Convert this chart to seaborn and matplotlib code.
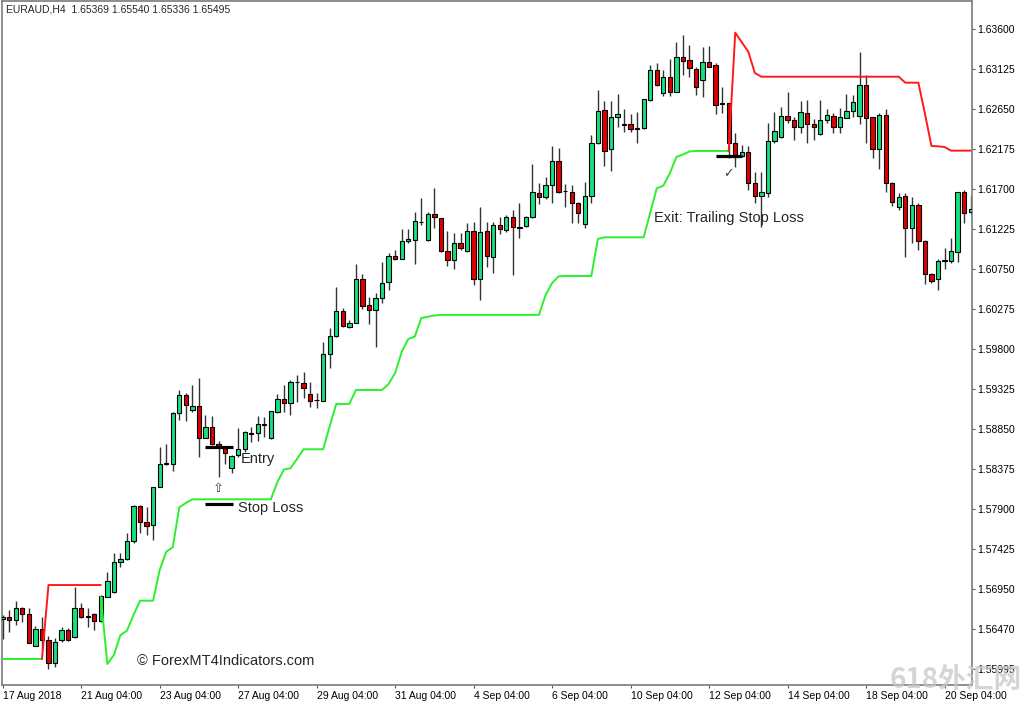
import numpy as np
import pandas as pd
import seaborn as sns
import matplotlib.pyplot as plt

# EURAUD H4 candles (bar 0 = 17 Aug 2018)
opens = [1.56590, 1.56610, 1.56578, 1.56721, 1.56650, 1.56270, 1.56472, 1.56341, 1.56068, 1.56341,
         1.56460, 1.56373, 1.56727, 1.56618, 1.56650, 1.56566, 1.56856, 1.56911, 1.57270, 1.57300,
         1.57516, 1.57935, 1.57745, 1.57706, 1.58161, 1.58428, 1.58428, 1.59033, 1.59250, 1.59072,
         1.59120, 1.58736, 1.58874, 1.58669, 1.58618, 1.58380, 1.58538, 1.58606, 1.58796, 1.58796,
         1.58906, 1.58736, 1.59052, 1.59199, 1.59152, 1.59401, 1.59396, 1.59259, 1.59191, 1.59183,
         1.59737, 1.59955, 1.60247, 1.60062, 1.60109, 1.60627, 1.60319, 1.60260, 1.60398, 1.60596,
         1.60901, 1.60866, 1.61079, 1.61091, 1.61301, 1.61091, 1.61396, 1.61349, 1.60961, 1.60854,
         1.61052, 1.60964, 1.61198, 1.60627, 1.61198, 1.60893, 1.61269, 1.61210, 1.61361, 1.61249,
         1.61257, 1.61361, 1.61646, 1.61605, 1.61744, 1.62033, 1.61673, 1.61665, 1.61527, 1.61277,
         1.61614, 1.62239, 1.62635, 1.62168, 1.62555, 1.62465, 1.62465, 1.62406, 1.62417, 1.62753,
         1.63110, 1.62833, 1.63023, 1.62852, 1.63261, 1.63228, 1.63122, 1.62991, 1.63201, 1.63169,
         1.62702, 1.62714, 1.62246, 1.62088, 1.62140, 1.61771, 1.61614, 1.61653, 1.62270, 1.62318,
         1.62567, 1.62516, 1.62429, 1.62595, 1.62465, 1.62346, 1.62516, 1.62567, 1.62429, 1.62543,
         1.62623, 1.62567, 1.62932, 1.62548, 1.62168, 1.62575, 1.61771, 1.61479, 1.61614, 1.61230,
         1.61507, 1.61083, 1.60687, 1.60624, 1.60842, 1.60846, 1.60952, 1.61657, 1.61424]
highs = [1.56638, 1.56697, 1.56804, 1.56733, 1.56721, 1.56507, 1.56614, 1.56389, 1.56365, 1.56496,
         1.56484, 1.56970, 1.56784, 1.56721, 1.56661, 1.56876, 1.57149, 1.57374, 1.57374, 1.57611,
         1.57944, 1.57944, 1.57924, 1.58161, 1.58633, 1.58669, 1.59052, 1.59310, 1.59270, 1.59369,
         1.59452, 1.59013, 1.59001, 1.58708, 1.58645, 1.58538, 1.58855, 1.58823, 1.58867, 1.59001,
         1.58986, 1.59066, 1.59259, 1.59369, 1.59429, 1.59488, 1.59520, 1.59408, 1.59278, 1.59880,
         1.60043, 1.60533, 1.60280, 1.60141, 1.60806, 1.60687, 1.60410, 1.60458, 1.60830, 1.60940,
         1.60972, 1.61222, 1.61218, 1.61423, 1.61590, 1.61420, 1.61709, 1.61356, 1.61202, 1.61171,
         1.61171, 1.61297, 1.61309, 1.61486, 1.61309, 1.61309, 1.61368, 1.61388, 1.61448, 1.61534,
         1.61380, 1.61994, 1.61764, 1.61836, 1.62207, 1.62180, 1.61756, 1.61744, 1.61546, 1.61783,
         1.62338, 1.62872, 1.62742, 1.62742, 1.62821, 1.62647, 1.62587, 1.62615, 1.62765, 1.63169,
         1.63189, 1.63110, 1.63237, 1.63446, 1.63525, 1.63407, 1.63142, 1.63379, 1.63395, 1.63189,
         1.62912, 1.62721, 1.62358, 1.62219, 1.62207, 1.61902, 1.61902, 1.62477, 1.62615, 1.62674,
         1.62852, 1.62555, 1.62745, 1.62753, 1.62524, 1.62753, 1.62643, 1.62595, 1.62655, 1.62821,
         1.62813, 1.63327, 1.63050, 1.62555, 1.62595, 1.62643, 1.61783, 1.61646, 1.61646, 1.61605,
         1.61534, 1.61091, 1.60703, 1.60862, 1.60993, 1.61111, 1.61661, 1.61685, 1.61614]
lows = [1.56353, 1.56436, 1.56519, 1.56555, 1.56300, 1.56265, 1.56234, 1.55997, 1.56021, 1.56317,
        1.56333, 1.56361, 1.56598, 1.56496, 1.56460, 1.56555, 1.56850, 1.56905, 1.57208, 1.57297,
        1.57492, 1.57607, 1.57588, 1.57528, 1.58153, 1.58419, 1.58348, 1.58954, 1.58945, 1.59052,
        1.58514, 1.58736, 1.58657, 1.58277, 1.58431, 1.58321, 1.58518, 1.58574, 1.58697, 1.58704,
        1.58748, 1.58734, 1.59033, 1.59052, 1.59013, 1.59171, 1.59211, 1.59112, 1.59100, 1.59183,
        1.59571, 1.59943, 1.60062, 1.60043, 1.60109, 1.60268, 1.60093, 1.59820, 1.60347, 1.60497,
        1.60854, 1.60866, 1.61052, 1.60806, 1.61269, 1.61083, 1.61237, 1.60952, 1.60782, 1.60743,
        1.60972, 1.60952, 1.60557, 1.60378, 1.60767, 1.60696, 1.61162, 1.61190, 1.60675, 1.61119,
        1.61249, 1.61356, 1.61515, 1.61578, 1.61534, 1.61646, 1.61479, 1.61289, 1.61289, 1.61230,
        1.61534, 1.62231, 1.61973, 1.61910, 1.62436, 1.62377, 1.62377, 1.62239, 1.62409, 1.62745,
        1.62923, 1.62805, 1.62801, 1.62845, 1.63050, 1.63023, 1.62813, 1.62793, 1.63149, 1.62587,
        1.62595, 1.62061, 1.61961, 1.62080, 1.61685, 1.61527, 1.61249, 1.61605, 1.62246, 1.62306,
        1.62477, 1.62278, 1.62365, 1.62246, 1.62278, 1.62338, 1.62477, 1.62358, 1.62358, 1.62543,
        1.62555, 1.62469, 1.62246, 1.62061, 1.61931, 1.61665, 1.61495, 1.61447, 1.60886, 1.61052,
        1.60972, 1.60569, 1.60584, 1.60497, 1.60743, 1.60822, 1.60834, 1.61297, 1.61408]
closes = [1.56614, 1.56580, 1.56721, 1.56650, 1.56305, 1.56472, 1.56341, 1.56068, 1.56317, 1.56460,
          1.56341, 1.56727, 1.56618, 1.56624, 1.56566, 1.56864, 1.57042, 1.57267, 1.57303, 1.57516,
          1.57932, 1.57742, 1.57694, 1.58157, 1.58431, 1.58440, 1.59037, 1.59250, 1.59132, 1.59120,
          1.58740, 1.58870, 1.58669, 1.58630, 1.58558, 1.58526, 1.58606, 1.58815, 1.58784, 1.58906,
          1.58891, 1.59060, 1.59199, 1.59152, 1.59405, 1.59405, 1.59330, 1.59179, 1.59187, 1.59737,
          1.59951, 1.60247, 1.60070, 1.60109, 1.60627, 1.60307, 1.60260, 1.60398, 1.60576, 1.60901,
          1.60869, 1.61079, 1.61103, 1.61317, 1.61305, 1.61400, 1.61361, 1.60961, 1.60854, 1.61052,
          1.60993, 1.61198, 1.60627, 1.61190, 1.60901, 1.61269, 1.61222, 1.61361, 1.61242, 1.61237,
          1.61361, 1.61661, 1.61605, 1.61744, 1.62029, 1.61665, 1.61669, 1.61527, 1.61408, 1.61614,
          1.62243, 1.62623, 1.62152, 1.62555, 1.62587, 1.62461, 1.62406, 1.62425, 1.62762, 1.63110,
          1.62932, 1.63030, 1.62852, 1.63261, 1.63220, 1.63130, 1.62911, 1.63201, 1.63149, 1.62694,
          1.62714, 1.62246, 1.62100, 1.62140, 1.61771, 1.61614, 1.61657, 1.62270, 1.62385, 1.62567,
          1.62516, 1.62436, 1.62607, 1.62469, 1.62429, 1.62516, 1.62575, 1.62436, 1.62548, 1.62623,
          1.62726, 1.62932, 1.62536, 1.62168, 1.62575, 1.61771, 1.61546, 1.61605, 1.61230, 1.61507,
          1.61083, 1.60687, 1.60604, 1.60842, 1.60854, 1.60961, 1.61657, 1.61415, 1.61456]

# trailing stop indicator: green under price (long), red above price (short)
green_bars = list(range(0, 7)) + list(range(15, 112))
green_levels = [1.56115, 1.56115, 1.56115, 1.56115, 1.56115, 1.56115, 1.56115,
                1.56856, 1.56056, 1.56163, 1.56400, 1.56452, 1.56638, 1.56808, 1.56808, 1.56808, 1.57172,
                1.57389, 1.57442, 1.57916, 1.57968,
                1.58012, 1.58012, 1.58012, 1.58012, 1.58012, 1.58012, 1.58012, 1.58012, 1.58012, 1.58012,
                1.58012, 1.58012, 1.58012,
                1.58218, 1.58366, 1.58380, 1.58491,
                1.58606, 1.58606, 1.58606, 1.58606,
                1.58882,
                1.59144, 1.59144, 1.59144,
                1.59310, 1.59310, 1.59310, 1.59310, 1.59310,
                1.59381, 1.59512, 1.59761, 1.59915, 1.59943, 1.60165, 1.60180, 1.60195,
                1.60202, 1.60202, 1.60202, 1.60202, 1.60202, 1.60202, 1.60202, 1.60202,
                1.60202, 1.60202, 1.60202, 1.60202, 1.60202, 1.60202, 1.60202, 1.60202,
                1.60438, 1.60580, 1.60660,
                1.60664, 1.60664, 1.60664, 1.60664, 1.60664,
                1.61103,
                1.61123, 1.61123, 1.61123, 1.61123, 1.61123, 1.61123, 1.61123,
                1.61412, 1.61705, 1.61736, 1.61882, 1.62077, 1.62106, 1.62142,
                1.62148, 1.62148, 1.62148, 1.62148, 1.62148, 1.62148]
red_bars = list(range(6, 16)) + list(range(111, 149))
red_levels = [1.56115, 1.56994, 1.56994, 1.56994, 1.56994, 1.56994, 1.56994, 1.56994, 1.56994, 1.56994,
              1.62148, 1.63553, 1.63439, 1.63327, 1.63074,
              1.63030, 1.63030, 1.63030, 1.63030, 1.63030, 1.63030, 1.63030, 1.63030, 1.63030, 1.63030, 1.63030,
              1.63030, 1.63030, 1.63030, 1.63030, 1.63030, 1.63030, 1.63030, 1.63030, 1.63030, 1.63030, 1.63030,
              1.62959, 1.62959, 1.62959,
              1.62593, 1.62207, 1.62204, 1.62195,
              1.62152, 1.62152, 1.62152, 1.62152]

# trade markers
entry_price, stop_price, exit_price = 1.58630, 1.57953, 1.62088
entry_span = (30.9, 35.2)
exit_span = (109.0, 113.1)

date_ticks = [0, 12, 24, 36, 48, 60, 72, 84, 96, 108, 120, 132, 144]
date_labels = ['17 Aug 2018', '21 Aug 04:00', '23 Aug 04:00', '27 Aug 04:00', '29 Aug 04:00',
               '31 Aug 04:00', '4 Sep 04:00', '6 Sep 04:00', '10 Sep 04:00', '12 Sep 04:00',
               '14 Sep 04:00', '18 Sep 04:00', '20 Sep 04:00']
price_ticks = [1.63600, 1.63125, 1.62650, 1.62175, 1.61700, 1.61225, 1.60750, 1.60275, 1.59800,
               1.59325, 1.58850, 1.58375, 1.57900, 1.57425, 1.56950, 1.56470, 1.55995]

UP = '#17e07f'
DOWN = '#e00000'

sns.set_style('white')
plt.rcParams['font.family'] = ['Liberation Sans', 'DejaVu Sans']

fig = plt.figure(figsize=(10.24, 7.05), dpi=100)
ax = fig.add_axes([2 / 1024, 20 / 705, 970 / 1024, 684 / 705])

o, h, l, c = (np.array(a) for a in (opens, highs, lows, closes))
x = np.arange(len(o))
body_col = np.where(c >= o, UP, DOWN)

# candles: wicks then bodies
ax.vlines(x, l, h, color='#333333', linewidth=1, zorder=2)
ax.bar(x, c - o, bottom=o, width=0.66, color=body_col, edgecolor='black', linewidth=0.8, zorder=3)

# trailing stop lines, broken where the indicator flips side
stops = pd.concat([
    pd.DataFrame({'bar': green_bars, 'level': green_levels, 'side': 'long'}),
    pd.DataFrame({'bar': red_bars, 'level': red_levels, 'side': 'short'}),
], ignore_index=True)
run = stops.groupby('side')['bar'].transform(lambda b: (b.diff() != 1).cumsum())
stops['seg'] = stops['side'] + run.astype(str)
sns.lineplot(data=stops, x='bar', y='level', hue='side', units='seg', estimator=None,
             palette={'long': '#2cf02c', 'short': '#ff1a1a'}, linewidth=1.4,
             legend=False, ax=ax, zorder=4)

# entry / stop / exit marks
ax.hlines(entry_price, *entry_span, color='black', linewidth=2.3, zorder=5)
ax.hlines(stop_price, *entry_span, color='black', linewidth=2.3, zorder=5)
ax.hlines(exit_price, *exit_span, color='black', linewidth=2.3, zorder=5)
ax.text(33, 1.58143, '\u21e7', fontsize=9.5, color='#30405a', ha='center', va='center',
        family=['DejaVu Sans'], zorder=6)
ax.text(111, 1.61883, '\u2713', fontsize=9, color='#404040', ha='center', va='center',
        family=['DejaVu Sans'], zorder=6)

ax.text(36.4, 1.58491, 'Entry', fontsize=10.5, va='center', ha='left', zorder=6)
ax.text(36.0, 1.57909, 'Stop Loss', fontsize=10.5, va='center', ha='left', zorder=6)
ax.text(99.6, 1.61353, 'Exit: Trailing Stop Loss', fontsize=10.5, va='center', ha='left', zorder=6)
ax.text(20.5, 1.56091, '\u00a9 ForexMT4Indicators.com', fontsize=10.5, va='center', ha='left', zorder=6)

ax.set_xlim(-0.107, 148.2)
ax.set_ylim(1.55807, 1.63929)
ax.set_xlabel('')
ax.set_ylabel('')

ax.yaxis.tick_right()
ax.set_yticks(price_ticks)
ax.set_yticklabels([f'{p:.5f}' for p in price_ticks])
ax.tick_params(axis='y', right=True, left=False, direction='out', length=2.5, width=0.8,
               color='#555555', labelsize=7.5, pad=1.5, labelcolor='black')
ax.set_xticks(date_ticks)
ax.set_xticklabels(date_labels, ha='left')
ax.tick_params(axis='x', bottom=True, direction='out', length=2.5, width=0.8,
               color='#555555', labelsize=7.5, pad=1.5, labelcolor='black')

for side in ['left', 'top', 'right', 'bottom']:
    ax.spines[side].set_visible(True)
    ax.spines[side].set_color('#7a7a7a')
    ax.spines[side].set_linewidth(1.2)

fig.text(6 / 1024, 1 - 10 / 705, 'EURAUD,H4  1.65369 1.65540 1.65336 1.65495',
         fontsize=7.5, va='center', ha='left')
# site watermark sits over the corner labels, as in the screenshot
fig.text(890 / 1024, 1 - 680 / 705, '618外汇网', fontsize=20, color='#c8c8c8', alpha=0.75,
         fontweight='bold', family=['Noto Sans CJK SC', 'DejaVu Sans'], va='center', ha='left')

fig.savefig('out.png', dpi=100)
